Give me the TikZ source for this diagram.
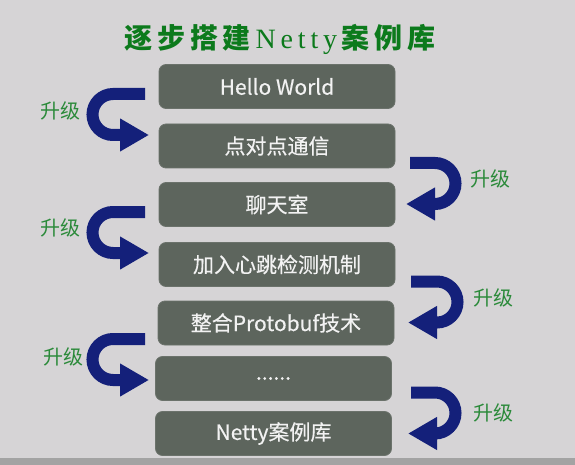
\documentclass[tikz,border=0pt]{standalone}
\usepackage{fontspec}
\usetikzlibrary{arrows.meta}
\newfontfamily\cjkfont[FakeBold=0.4]{Noto Sans CJK SC}
\newfontfamily\labelfont{Noto Sans CJK SC}
\newfontfamily\titlecjk{Noto Sans CJK SC}
\newfontfamily\titlelatin{Liberation Serif}
\newcommand\tsp{\kern4.8pt}
\definecolor{bgcol}{HTML}{D6D4D6}
\definecolor{stripcol}{HTML}{A3A3A3}
\definecolor{boxfill}{HTML}{5D655D}
\definecolor{boxedge}{HTML}{6B726B}
\definecolor{boxtext}{HTML}{F2F2F2}
\definecolor{upblue}{HTML}{14207A}
\definecolor{upgreen}{HTML}{2B8A3A}
\definecolor{titlegreen}{HTML}{0C7A1C}
\tikzset{
  stage/.style={draw=boxedge, line width=0.8pt, fill=boxfill, rounded corners=7pt,
    minimum width=236pt, minimum height=44pt, inner sep=0pt, text=boxtext,
    font=\cjkfont\fontsize{21}{25}\selectfont},
  upline/.style={draw=upblue, line width=12pt,
    -{Triangle[length=29pt,width=31pt]}},
  uplabel/.style={text=upgreen, inner sep=0pt,
    font=\labelfont\fontsize{20}{24}\selectfont},
}

\begin{document}
\begin{tikzpicture}[x=1pt,y=-1pt]
\useasboundingbox (0,0) rectangle (575,465);
\fill[bgcol] (0,0) rectangle (575,465);
\fill[stripcol] (0,458) rectangle (575,465);
% title
\node[text=titlegreen, inner sep=0pt] (title) at (280,39)
  {\fontsize{28}{32}\selectfont\titlecjk\bfseries 逐\tsp 步\tsp 搭\tsp 建\tsp
   \mdseries\titlelatin N\tsp e\tsp t\tsp t\tsp y\tsp
   \titlecjk\bfseries 案\tsp 例\tsp 库};
% stages
\node[stage] (hello) at (277,86.5) {Hello World};
\node[stage] (p2p) at (277,146) {点对点通信};
\node[stage] (chat) at (277,204.5) {聊天室};
\node[stage] (heart) at (277,264.5) {加入心跳检测机制};
\node[stage] (proto) at (276,323) {整合Protobuf技术};
\node[stage] (more) at (273.5,378.5) {......};
\node[stage] (lib) at (273.5,433.5) {Netty案例库};
% left turns
\coordinate (l1a) at (145,94);
\coordinate (l1b) at (149,135);
\draw[upline] (l1a) -- (113,94) arc[start angle=270,end angle=90,radius=20.5] -- (l1b);
\node[uplabel] (up1) at (60,111) {升级};
\coordinate (l2a) at (145,212);
\coordinate (l2b) at (149,253);
\draw[upline] (l2a) -- (113,212) arc[start angle=270,end angle=90,radius=20.5] -- (l2b);
\node[uplabel] (up3) at (60,228) {升级};
\coordinate (l3a) at (145,339);
\coordinate (l3b) at (149,380);
\draw[upline] (l3a) -- (113,339) arc[start angle=270,end angle=90,radius=20.5] -- (l3b);
\node[uplabel] (up5) at (63,357) {升级};
% right turns
\coordinate (r1a) at (410,163);
\coordinate (r1b) at (406,204);
\draw[upline] (r1a) -- (435,163) arc[start angle=-90,end angle=90,radius=20.5] -- (r1b);
\node[uplabel] (up2) at (490,179) {升级};
\coordinate (r2a) at (411,281.5);
\coordinate (r2b) at (408,322.5);
\draw[upline] (r2a) -- (437,281.5) arc[start angle=-90,end angle=90,radius=20.5] -- (r2b);
\node[uplabel] (up4) at (493,298) {升级};
\coordinate (r3a) at (411,392.5);
\coordinate (r3b) at (408,433.5);
\draw[upline] (r3a) -- (435,392.5) arc[start angle=-90,end angle=90,radius=20.5] -- (r3b);
\node[uplabel] (up6) at (493,413) {升级};
\end{tikzpicture}
\end{document}
